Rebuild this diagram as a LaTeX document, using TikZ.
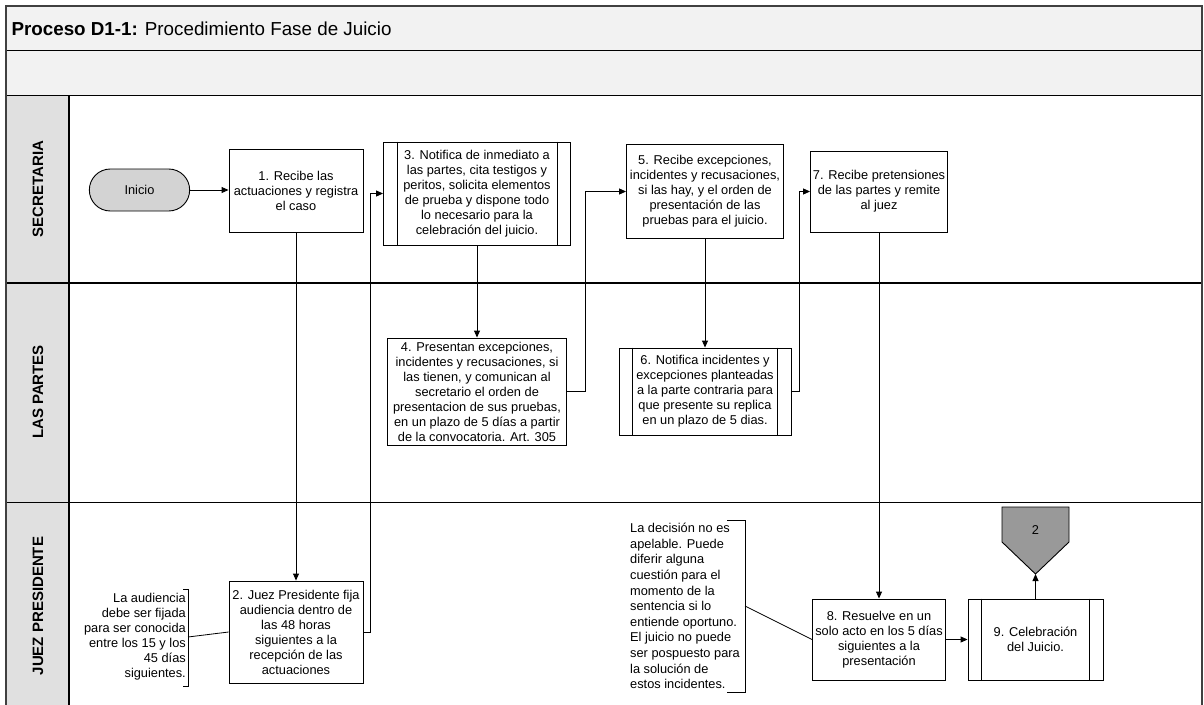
\documentclass[tikz,border=0pt]{standalone}
\usepackage{fontspec}
\setmainfont{Liberation Sans}
\usetikzlibrary{arrows.meta,shapes.misc,calc}

\definecolor{bandgray}{RGB}{242,242,242}
\definecolor{lanegray}{RGB}{224,224,224}
\definecolor{startgray}{RGB}{211,211,211}
\definecolor{pagegray}{RGB}{153,153,153}
\definecolor{framegray}{RGB}{64,64,64}

\begin{document}
\begin{tikzpicture}[x=1pt,y=-1pt,
  every node/.style={font=\fontsize{12.8}{15}\selectfont},
  box/.style={draw=black, line width=0.9pt, fill=white, align=center, inner sep=2pt},
  link/.style={draw=black, line width=0.9pt, -{Triangle[length=7pt,width=6pt]}},
  plain/.style={draw=black, line width=0.8pt},
  note/.style={inner sep=0pt},
  lanelabel/.style={rotate=90, font=\bfseries\fontsize{15}{18}\selectfont}
]
\useasboundingbox (0,0) rectangle (1204,704);

% background, header bands and lane column
\fill[white] (0,0) rectangle (1204,704);
\fill[bandgray] (6,6) rectangle (1202,95.5);
\fill[lanegray] (6,95.5) rectangle (69,712);
\draw[line width=1.4pt] (6,50.5) -- (1202,50.5);
\draw[line width=1.4pt] (6,95.5) -- (1202,95.5);
\draw[line width=1.4pt] (6,283) -- (1202,283);
\draw[line width=1.4pt] (6,502.5) -- (1202,502.5);
\draw[line width=1.2pt] (69,95.5) -- (69,712);
\draw[framegray, line width=2pt] (6,712) -- (6,6) -- (1202,6) -- (1202,712);

% title
\node[anchor=west, font=\fontsize{18.8}{22}\selectfont] (title) at (8,28.5)
  {\textbf{Proceso D1-1:} Procedimiento Fase de Juicio};

% lane labels
\node[lanelabel] (lane1) at (38,189) {SECRETARIA};
\node[lanelabel] (lane2) at (38,392) {LAS PARTES};
\node[lanelabel] (lane3) at (38,606) {JUEZ PRESIDENTE};

% process steps
\node[draw, rounded rectangle, fill=startgray, line width=0.9pt,
      minimum width=107pt, minimum height=42pt] (ini) at (139.5,190) {Inicio};

\node[box, minimum width=134pt, minimum height=83pt] (n1) at (296,190.5)
  {1. Recibe las\\actuaciones y registra\\el caso};

\node[box, minimum width=134pt, minimum height=102pt] (n2) at (296,632)
  {2. Juez Presidente fija\\audiencia dentro de\\las 48 horas\\siguientes a la\\recepción de las\\actuaciones};

\node[box, minimum width=187pt, minimum height=103pt] (n3) at (477,193.5)
  {3. Notifica de inmediato a\\las partes, cita testigos y\\peritos, solicita elementos\\de prueba y dispone todo\\lo necesario para la\\celebración del juicio.};
\draw[plain] ([xshift=14pt]n3.north west) -- ([xshift=14pt]n3.south west);
\draw[plain] ([xshift=-14pt]n3.north east) -- ([xshift=-14pt]n3.south east);

\node[box, minimum width=179pt, minimum height=107pt] (n4) at (477,391.5)
  {4. Presentan excepciones,\\incidentes y recusaciones, si\\las tienen, y comunican al\\secretario el orden de\\presentacion de sus pruebas,\\en un plazo de 5 días a partir\\de la convocatoria. Art. 305};

\node[box, minimum width=157pt, minimum height=94pt] (n5) at (705,191.5)
  {5. Recibe excepciones,\\incidentes y recusaciones,\\si las hay, y el orden de\\presentación de las\\pruebas para el juicio.};

\node[box, minimum width=172pt, minimum height=87pt] (n6) at (705,391.5)
  {6. Notifica incidentes y\\excepciones planteadas\\a la parte contraria para\\que presente su replica\\en un plazo de 5 dias.};
\draw[plain] ([xshift=14pt]n6.north west) -- ([xshift=14pt]n6.south west);
\draw[plain] ([xshift=-14pt]n6.north east) -- ([xshift=-14pt]n6.south east);

\node[box, minimum width=137pt, minimum height=81pt] (n7) at (879,191.5)
  {7. Recibe pretensiones\\de las partes y remite\\al juez};

\node[box, minimum width=133pt, minimum height=81pt] (n8) at (879,639.5)
  {8. Resuelve en un\\solo acto en los 5 días\\siguientes a la\\presentación};

\node[box, minimum width=135pt, minimum height=81pt] (n9) at (1035.5,639.5)
  {9. Celebración\\del Juicio.};
\draw[plain] ([xshift=14pt]n9.north west) -- ([xshift=14pt]n9.south west);
\draw[plain] ([xshift=-14pt]n9.north east) -- ([xshift=-14pt]n9.south east);

% off-page reference
\draw[fill=pagegray, line width=0.9pt] (1002,507) -- (1069,507) -- (1069,542)
  -- (1035.5,574) -- (1002,542) -- cycle;
\node (off) at (1035.5,530) {2};
\coordinate (offtip) at (1035.5,574);

% annotations
\node[note, align=right, anchor=east] (a1) at (186,637)
  {La audiencia\\debe ser fijada\\para ser conocida\\entre los 15 y los\\45 días\\siguientes.};
\draw[plain] (183,589) -- (188,589) -- (188,686) -- (183,686);
\coordinate (a1b) at (188,637);

\node[note, align=left, anchor=west, font=\fontsize{12.8}{15.6}\selectfont] (a2) at (630,606)
  {La decisión no es\\apelable. Puede\\diferir alguna\\cuestión para el\\momento de la\\sentencia si lo\\entiende oportuno.\\El juicio no puede\\ser pospuesto para\\la solución de\\estos incidentes.};
\draw[plain] (727,520) -- (745,520) -- (745,692) -- (727,692);
\coordinate (a2b) at (745,606);

% connectors
\draw[link] (ini.east) -- (ini.east -| n1.west);
\draw[link] (n1.south) -- (n2.north);
\draw[link] (n2.east) -- ++(7,0) |- (n3.west);
\draw[link] (n3.south) -- (n4.north);
\draw[link] (n4.east) -- ++(18,0) |- (n5.west);
\draw[link] (n5.south) -- (n6.north);
\draw[link] (n6.east) -- ++(8,0) |- (n7.west);
\draw[link] (n7.south) -- (n8.north);
\draw[link] (n8.east) -- (n9.west);
\draw[link] (n9.north) -- (offtip);
\draw[plain] (a1b) -- (n2.west);
\draw[plain] (a2b) -- (n8.west);
\end{tikzpicture}
\end{document}
